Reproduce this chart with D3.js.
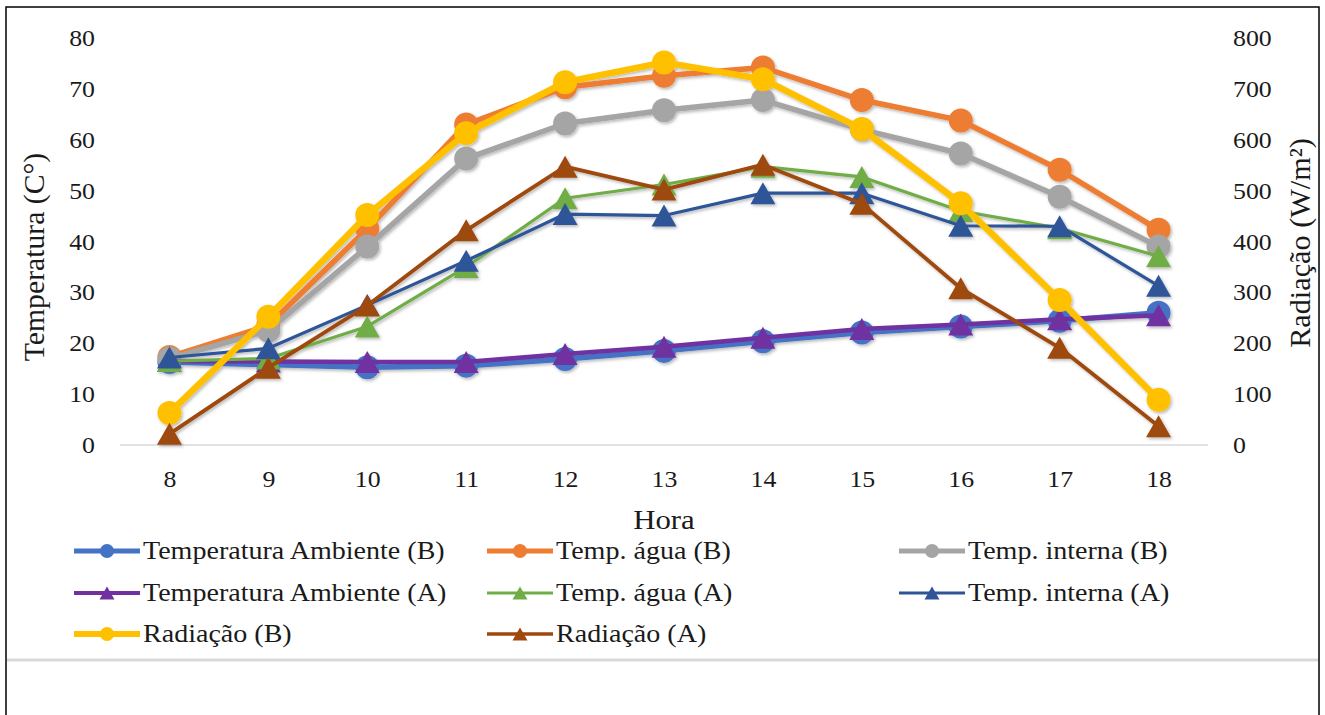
<!DOCTYPE html>
<html>
<head>
<meta charset="utf-8">
<script src="https://cdn.jsdelivr.net/npm/d3@7"></script>
<style>
  html, body { margin: 0; padding: 0; background: #fff; }
  svg { display: block; }
  svg text { font-family: "Liberation Serif", "Tinos", "Times New Roman", "DejaVu Serif", serif; }
</style>
</head>
<body>
<svg id="chart" width="1325" height="715"></svg>
<script>
// Hourly readings, 8h–18h
const hours = [8, 9, 10, 11, 12, 13, 14, 15, 16, 17, 18];

// Temperatures (°C), left axis
const tempAmbienteB = [16.3, 15.8, 15.3, 15.6, 16.9, 18.5, 20.4, 22.1, 23.3, 24.4, 26.0];
const tempAguaB     = [17.3, 23.5, 42.5, 63.0, 70.3, 72.6, 74.2, 67.8, 63.8, 54.1, 42.3];
const tempInternaB  = [17.0, 22.5, 39.0, 56.3, 63.2, 65.8, 67.8, 62.0, 57.3, 48.8, 39.0];
const tempAmbienteA = [16.5, 16.4, 16.3, 16.3, 17.9, 19.3, 21.1, 22.8, 23.7, 24.7, 25.5];
const tempAguaA     = [16.5, 17.0, 23.3, 35.0, 48.5, 51.2, 54.7, 52.7, 46.0, 42.6, 37.1];
const tempInternaA  = [17.2, 19.0, 27.5, 36.2, 45.4, 45.1, 49.5, 49.5, 43.1, 43.0, 31.3];

// Solar radiation (W/m²), right axis
const radiacaoB = [63, 252, 452, 613, 713, 752, 719, 621, 475, 285, 89];
const radiacaoA = [22, 152, 274, 422, 547, 502, 551, 474, 308, 191, 37];

// Axis ticks
const tempTicks = [0, 10, 20, 30, 40, 50, 60, 70, 80];
const radTicks  = [0, 100, 200, 300, 400, 500, 600, 700, 800];

// Series in drawing order
const series = [
  { name: "Temperatura Ambiente (B)", values: tempAmbienteB, axis: "left",  color: "#4472C4", width: 5.5, marker: "circle" },
  { name: "Temp. água (B)",           values: tempAguaB,     axis: "left",  color: "#ED7D31", width: 5.5, marker: "circle" },
  { name: "Temp. interna (B)",        values: tempInternaB,  axis: "left",  color: "#A5A5A5", width: 5.5, marker: "circle" },
  { name: "Temperatura Ambiente (A)", values: tempAmbienteA, axis: "left",  color: "#7030A0", width: 4.5, marker: "triangle" },
  { name: "Temp. água (A)",           values: tempAguaA,     axis: "left",  color: "#70AD47", width: 3.2, marker: "triangle" },
  { name: "Temp. interna (A)",        values: tempInternaA,  axis: "left",  color: "#2F5597", width: 3.2, marker: "triangle" },
  { name: "Radiação (B)",             values: radiacaoB,     axis: "right", color: "#FFC000", width: 6.5, marker: "circle" },
  { name: "Radiação (A)",             values: radiacaoA,     axis: "right", color: "#9E480E", width: 3.8, marker: "triangle" }
];

// Legend grid: rows of series names
const legendRows = [
  ["Temperatura Ambiente (B)", "Temp. água (B)", "Temp. interna (B)"],
  ["Temperatura Ambiente (A)", "Temp. água (A)", "Temp. interna (A)"],
  ["Radiação (B)", "Radiação (A)"]
];

const svg = d3.select("#chart");

const plot = { left: 120, right: 1208, top: 38, bottom: 445 };
const stretch = "scale(1.1,1)";   // slightly wide lettering

const x = d3.scalePoint().domain(hours).range([plot.left, plot.right]).padding(0.5);
const yLeft  = d3.scaleLinear().domain([0, 80]).range([plot.bottom, plot.top]);
const yRight = d3.scaleLinear().domain([0, 800]).range([plot.bottom, plot.top]);

// soft shadow under the series
const defs = svg.append("defs");
const f = defs.append("filter").attr("id", "shadow").attr("x", "-20%").attr("y", "-20%").attr("width", "140%").attr("height", "140%");
f.append("feDropShadow").attr("dx", 1.5).attr("dy", 1.8).attr("stdDeviation", 1.4)
  .attr("flood-color", "#000").attr("flood-opacity", 0.28);

// outer frame and separator
svg.append("rect").attr("x", 6).attr("y", 7).attr("width", 1313).attr("height", 730)
  .attr("fill", "none").attr("stroke", "#000").attr("stroke-width", 1.5);
svg.append("line").attr("x1", 7).attr("x2", 1318).attr("y1", 660).attr("y2", 660)
  .attr("stroke", "#d9d9d9").attr("stroke-width", 3);

// baseline
svg.append("line").attr("x1", plot.left).attr("x2", plot.right)
  .attr("y1", plot.bottom).attr("y2", plot.bottom)
  .attr("stroke", "#d9d9d9").attr("stroke-width", 1.5);

// Axes (labels only)
const axisLeft = svg.append("g").attr("transform", `translate(${plot.left - 25},0)`)
  .call(d3.axisLeft(yLeft).tickValues(tempTicks).tickSize(0).tickPadding(0));
const axisRight = svg.append("g").attr("transform", `translate(${plot.right + 25},0)`)
  .call(d3.axisRight(yRight).tickValues(radTicks).tickSize(0).tickPadding(0));
const axisBottom = svg.append("g").attr("transform", `translate(0,${plot.bottom})`)
  .call(d3.axisBottom(x).tickSize(0).tickPadding(25));
[axisLeft, axisRight, axisBottom].forEach(g => {
  g.attr("font-family", null);
  g.select(".domain").remove();
  g.selectAll("text").attr("font-size", 23.5).attr("fill", "#1a1a1a").attr("transform", stretch);
});

// Axis titles
svg.append("text").attr("transform", `translate(664,529) ${stretch}`).attr("text-anchor", "middle")
  .attr("font-size", 28).attr("fill", "#1a1a1a").text("Hora");
svg.append("text").attr("transform", "translate(44,257) rotate(-90) scale(1.1,1.1)").attr("text-anchor", "middle")
  .attr("font-size", 27).attr("fill", "#1a1a1a").text("Temperatura (C°)");
svg.append("text").attr("transform", "translate(1310,243) rotate(-90) scale(1.12,1.1)").attr("text-anchor", "middle")
  .attr("font-size", 27).attr("fill", "#1a1a1a").text("Radiação (W/m²)");

// Triangle centred on its bounding box
function triPath(w, h) {
  return `M0,${-h / 2}L${w / 2},${h / 2}L${-w / 2},${h / 2}Z`;
}

// Series
const seriesG = svg.append("g").attr("filter", "url(#shadow)");
series.forEach(s => {
  const yScale = s.axis === "left" ? yLeft : yRight;
  const pts = hours.map((h, i) => [x(h), yScale(s.values[i])]);
  const g = seriesG.append("g");
  g.append("path").attr("d", d3.line()(pts))
    .attr("fill", "none").attr("stroke", s.color).attr("stroke-width", s.width)
    .attr("stroke-linejoin", "round");
  if (s.marker === "circle") {
    g.selectAll("circle").data(pts).join("circle")
      .attr("cx", d => d[0]).attr("cy", d => d[1]).attr("r", 12)
      .attr("fill", s.color);
  } else {
    g.selectAll("path.m").data(pts).join("path").attr("class", "m")
      .attr("transform", d => `translate(${d[0]},${d[1]})`)
      .attr("d", triPath(25, 22)).attr("fill", s.color);
  }
});

// Legend
const colX = [74, 487, 899];
const rowY = [551, 593, 634];
const byName = new Map(series.map(s => [s.name, s]));
legendRows.forEach((row, ri) => {
  row.forEach((name, ci) => {
    const s = byName.get(name);
    const g = svg.append("g").attr("transform", `translate(${colX[ci]},${rowY[ri]})`);
    g.append("line").attr("x1", 0).attr("x2", 66).attr("y1", 0).attr("y2", 0)
      .attr("stroke", s.color).attr("stroke-width", Math.max(3, s.width - 0.5));
    if (s.marker === "circle") {
      g.append("circle").attr("cx", 33).attr("cy", 0).attr("r", 7).attr("fill", s.color);
    } else {
      g.append("path").attr("transform", "translate(33,0)").attr("d", triPath(15, 13)).attr("fill", s.color);
    }
    g.append("text").attr("transform", `translate(69,8) ${stretch}`).attr("font-size", 25.5)
      .attr("fill", "#1a1a1a").text(name);
  });
});
</script>
</body>
</html>
